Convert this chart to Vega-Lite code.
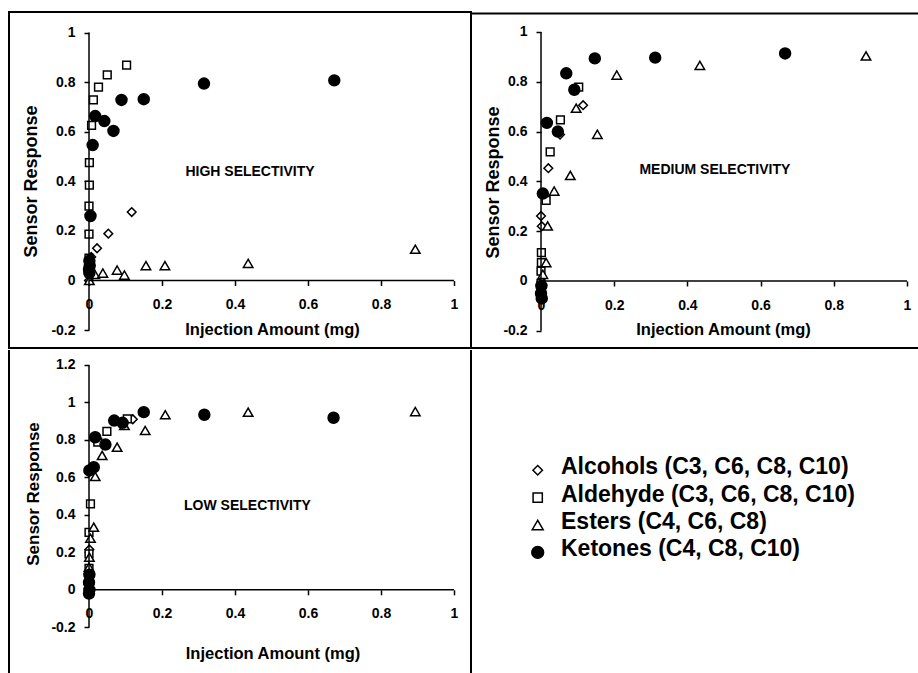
{
  "$schema": "https://vega.github.io/schema/vega-lite/v6.json",
  "background": "white",
  "padding": {"left": 8, "top": 11, "right": 0, "bottom": 0},
  "spacing": 0,
  "config": {
    "view": {"stroke": null},
    "legend": {"disable": true},
    "font": "Liberation Sans",
    "axis": {
      "grid": false, "domain": false, "tickColor": "black", "tickWidth": 1.5, "tickSize": 5,
      "labelFont": "Liberation Sans", "labelFontSize": 14, "labelFontWeight": "bold", "labelColor": "black",
      "labelFlush": false, "labelOverlap": false, "labelBound": false,
      "titleFont": "Liberation Sans", "titleFontWeight": "bold", "titleColor": "black",
      "titleAlign": "center", "titleBaseline": "middle"
    },
    "point": {"opacity": 1, "filled": true, "stroke": "black", "strokeWidth": 1.5}
  },
  "datasets": {
    "pts": [
      {"panel": "High", "type": "Alcohols", "amount": 0.0, "response": 0.0},
      {"panel": "High", "type": "Alcohols", "amount": 0.001, "response": 0.05},
      {"panel": "High", "type": "Alcohols", "amount": 0.006, "response": 0.095},
      {"panel": "High", "type": "Alcohols", "amount": 0.022, "response": 0.13},
      {"panel": "High", "type": "Alcohols", "amount": 0.053, "response": 0.189},
      {"panel": "High", "type": "Alcohols", "amount": 0.117, "response": 0.276},
      {"panel": "High", "type": "Aldehyde", "amount": 0.0, "response": 0.09},
      {"panel": "High", "type": "Aldehyde", "amount": 0.0, "response": 0.187},
      {"panel": "High", "type": "Aldehyde", "amount": 0.0, "response": 0.30},
      {"panel": "High", "type": "Aldehyde", "amount": 0.001, "response": 0.385},
      {"panel": "High", "type": "Aldehyde", "amount": 0.001, "response": 0.475},
      {"panel": "High", "type": "Aldehyde", "amount": 0.007, "response": 0.626},
      {"panel": "High", "type": "Aldehyde", "amount": 0.012, "response": 0.728},
      {"panel": "High", "type": "Aldehyde", "amount": 0.026, "response": 0.78},
      {"panel": "High", "type": "Aldehyde", "amount": 0.05, "response": 0.829},
      {"panel": "High", "type": "Aldehyde", "amount": 0.103, "response": 0.868},
      {"panel": "High", "type": "Esters", "amount": 0.001, "response": 0.0},
      {"panel": "High", "type": "Esters", "amount": 0.016, "response": 0.025},
      {"panel": "High", "type": "Esters", "amount": 0.038, "response": 0.03},
      {"panel": "High", "type": "Esters", "amount": 0.077, "response": 0.042},
      {"panel": "High", "type": "Esters", "amount": 0.097, "response": 0.022},
      {"panel": "High", "type": "Esters", "amount": 0.156, "response": 0.06},
      {"panel": "High", "type": "Esters", "amount": 0.208, "response": 0.06},
      {"panel": "High", "type": "Esters", "amount": 0.436, "response": 0.069},
      {"panel": "High", "type": "Esters", "amount": 0.894, "response": 0.126},
      {"panel": "High", "type": "Ketones", "amount": 0.001, "response": 0.03},
      {"panel": "High", "type": "Ketones", "amount": 0.0, "response": 0.045},
      {"panel": "High", "type": "Ketones", "amount": 0.002, "response": 0.06},
      {"panel": "High", "type": "Ketones", "amount": 0.001, "response": 0.08},
      {"panel": "High", "type": "Ketones", "amount": 0.004, "response": 0.26},
      {"panel": "High", "type": "Ketones", "amount": 0.01, "response": 0.546},
      {"panel": "High", "type": "Ketones", "amount": 0.017, "response": 0.663},
      {"panel": "High", "type": "Ketones", "amount": 0.042, "response": 0.643},
      {"panel": "High", "type": "Ketones", "amount": 0.067, "response": 0.603},
      {"panel": "High", "type": "Ketones", "amount": 0.089, "response": 0.728},
      {"panel": "High", "type": "Ketones", "amount": 0.15, "response": 0.731},
      {"panel": "High", "type": "Ketones", "amount": 0.315, "response": 0.794},
      {"panel": "High", "type": "Ketones", "amount": 0.672, "response": 0.807},

      {"panel": "Medium", "type": "Alcohols", "amount": 0.0, "response": -0.03},
      {"panel": "Medium", "type": "Alcohols", "amount": 0.002, "response": 0.22},
      {"panel": "Medium", "type": "Alcohols", "amount": 0.0, "response": 0.261},
      {"panel": "Medium", "type": "Alcohols", "amount": 0.02, "response": 0.453},
      {"panel": "Medium", "type": "Alcohols", "amount": 0.052, "response": 0.588},
      {"panel": "Medium", "type": "Alcohols", "amount": 0.115, "response": 0.706},
      {"panel": "Medium", "type": "Aldehyde", "amount": 0.0, "response": -0.01},
      {"panel": "Medium", "type": "Aldehyde", "amount": 0.0, "response": 0.04},
      {"panel": "Medium", "type": "Aldehyde", "amount": 0.001, "response": 0.074},
      {"panel": "Medium", "type": "Aldehyde", "amount": 0.001, "response": 0.114},
      {"panel": "Medium", "type": "Aldehyde", "amount": 0.014, "response": 0.324},
      {"panel": "Medium", "type": "Aldehyde", "amount": 0.025, "response": 0.519},
      {"panel": "Medium", "type": "Aldehyde", "amount": 0.053, "response": 0.647},
      {"panel": "Medium", "type": "Aldehyde", "amount": 0.103, "response": 0.779},
      {"panel": "Medium", "type": "Esters", "amount": 0.002, "response": 0.0},
      {"panel": "Medium", "type": "Esters", "amount": 0.005, "response": 0.027},
      {"panel": "Medium", "type": "Esters", "amount": 0.014, "response": 0.074},
      {"panel": "Medium", "type": "Esters", "amount": 0.018, "response": 0.221},
      {"panel": "Medium", "type": "Esters", "amount": 0.036, "response": 0.361},
      {"panel": "Medium", "type": "Esters", "amount": 0.08, "response": 0.424},
      {"panel": "Medium", "type": "Esters", "amount": 0.096, "response": 0.694},
      {"panel": "Medium", "type": "Esters", "amount": 0.154, "response": 0.589},
      {"panel": "Medium", "type": "Esters", "amount": 0.207, "response": 0.827},
      {"panel": "Medium", "type": "Esters", "amount": 0.434, "response": 0.866},
      {"panel": "Medium", "type": "Esters", "amount": 0.888, "response": 0.904},
      {"panel": "Medium", "type": "Ketones", "amount": 0.002, "response": -0.07},
      {"panel": "Medium", "type": "Ketones", "amount": 0.0, "response": -0.05},
      {"panel": "Medium", "type": "Ketones", "amount": 0.001, "response": -0.02},
      {"panel": "Medium", "type": "Ketones", "amount": 0.005, "response": 0.351},
      {"panel": "Medium", "type": "Ketones", "amount": 0.016, "response": 0.635},
      {"panel": "Medium", "type": "Ketones", "amount": 0.046, "response": 0.6},
      {"panel": "Medium", "type": "Ketones", "amount": 0.069, "response": 0.834},
      {"panel": "Medium", "type": "Ketones", "amount": 0.091, "response": 0.768},
      {"panel": "Medium", "type": "Ketones", "amount": 0.147, "response": 0.894},
      {"panel": "Medium", "type": "Ketones", "amount": 0.312, "response": 0.897},
      {"panel": "Medium", "type": "Ketones", "amount": 0.667, "response": 0.914},

      {"panel": "Low", "type": "Alcohols", "amount": 0.0, "response": 0.1},
      {"panel": "Low", "type": "Alcohols", "amount": 0.001, "response": 0.215},
      {"panel": "Low", "type": "Alcohols", "amount": 0.0, "response": 0.627},
      {"panel": "Low", "type": "Alcohols", "amount": 0.12, "response": 0.91},
      {"panel": "Low", "type": "Aldehyde", "amount": 0.0, "response": 0.03},
      {"panel": "Low", "type": "Aldehyde", "amount": 0.0, "response": 0.115},
      {"panel": "Low", "type": "Aldehyde", "amount": 0.0, "response": 0.192},
      {"panel": "Low", "type": "Aldehyde", "amount": 0.0, "response": 0.307},
      {"panel": "Low", "type": "Aldehyde", "amount": 0.004, "response": 0.459},
      {"panel": "Low", "type": "Aldehyde", "amount": 0.024, "response": 0.788},
      {"panel": "Low", "type": "Aldehyde", "amount": 0.049, "response": 0.845},
      {"panel": "Low", "type": "Aldehyde", "amount": 0.105, "response": 0.912},
      {"panel": "Low", "type": "Esters", "amount": 0.0, "response": 0.05},
      {"panel": "Low", "type": "Esters", "amount": 0.0, "response": 0.121},
      {"panel": "Low", "type": "Esters", "amount": 0.001, "response": 0.174},
      {"panel": "Low", "type": "Esters", "amount": 0.004, "response": 0.275},
      {"panel": "Low", "type": "Esters", "amount": 0.013, "response": 0.334},
      {"panel": "Low", "type": "Esters", "amount": 0.017, "response": 0.605},
      {"panel": "Low", "type": "Esters", "amount": 0.036, "response": 0.717},
      {"panel": "Low", "type": "Esters", "amount": 0.077, "response": 0.761},
      {"panel": "Low", "type": "Esters", "amount": 0.097, "response": 0.877},
      {"panel": "Low", "type": "Esters", "amount": 0.154, "response": 0.85},
      {"panel": "Low", "type": "Esters", "amount": 0.209, "response": 0.934},
      {"panel": "Low", "type": "Esters", "amount": 0.436, "response": 0.948},
      {"panel": "Low", "type": "Esters", "amount": 0.894, "response": 0.951},
      {"panel": "Low", "type": "Ketones", "amount": 0.0, "response": -0.02},
      {"panel": "Low", "type": "Ketones", "amount": 0.001, "response": 0.0},
      {"panel": "Low", "type": "Ketones", "amount": 0.0, "response": 0.04},
      {"panel": "Low", "type": "Ketones", "amount": 0.001, "response": 0.08},
      {"panel": "Low", "type": "Ketones", "amount": 0.001, "response": 0.637},
      {"panel": "Low", "type": "Ketones", "amount": 0.013, "response": 0.654},
      {"panel": "Low", "type": "Ketones", "amount": 0.017, "response": 0.814},
      {"panel": "Low", "type": "Ketones", "amount": 0.045, "response": 0.775},
      {"panel": "Low", "type": "Ketones", "amount": 0.069, "response": 0.903},
      {"panel": "Low", "type": "Ketones", "amount": 0.092, "response": 0.891},
      {"panel": "Low", "type": "Ketones", "amount": 0.15, "response": 0.948},
      {"panel": "Low", "type": "Ketones", "amount": 0.316, "response": 0.934},
      {"panel": "Low", "type": "Ketones", "amount": 0.67, "response": 0.918}
    ],
    "legendRows": [
      {"type": "Alcohols", "label": "Alcohols (C3, C6, C8, C10)", "row": 0},
      {"type": "Aldehyde", "label": "Aldehyde (C3, C6, C8, C10)", "row": 1},
      {"type": "Esters", "label": "Esters (C4, C6, C8)", "row": 2},
      {"type": "Ketones", "label": "Ketones (C4, C8, C10)", "row": 3}
    ]
  },
  "vconcat": [
    {
      "hconcat": [
        {
          "width": 462, "height": 336,
          "view": {"stroke": "black", "strokeWidth": 2},
          "layer": [
            {
              "data": {"name": "pts"},
              "transform": [{"filter": "datum.panel === 'High'"}],
              "mark": {"type": "point"},
              "encoding": {
                "x": {"field": "amount", "type": "quantitative",
                  "scale": {"domain": [-0.2192, 1.0466], "nice": false, "zero": false},
                  "axis": {"title": "Injection Amount (mg)", "values": [0, 0.2, 0.4, 0.6, 0.8, 1], "offset": -67.5, "labelPadding": 12, "labelExpr": "'' + datum.value", "titleX": 263, "titleY": 48.5, "titleFontSize": 16.5}},
                "y": {"field": "response", "type": "quantitative",
                  "scale": {"domain": [-0.2722, 1.0827], "nice": false, "zero": false},
                  "axis": {"title": "Sensor Response", "values": [-0.2, 0, 0.2, 0.4, 0.6, 0.8, 1], "offset": -80, "labelPadding": 9, "labelExpr": "'' + datum.value", "titleAngle": -90, "titleX": -58, "titleY": 169, "titleFontSize": 18}},
                "shape": {"field": "type", "type": "nominal", "scale": {"domain": ["Alcohols", "Aldehyde", "Esters", "Ketones"], "range": ["diamond", "square", "triangle-up", "circle"]}},
                "fill": {"field": "type", "type": "nominal", "scale": {"domain": ["Alcohols", "Aldehyde", "Esters", "Ketones"], "range": ["white", "white", "white", "black"]}},
                "size": {"condition": [{"test": "datum.type === 'Ketones'", "value": 120}, {"test": "datum.type === 'Esters'", "value": 90}, {"test": "datum.type === 'Alcohols'", "value": 75}], "value": 60}
              }
            },
            {
              "data": {"values": [{}]},
              "mark": {"type": "rule", "color": "black", "strokeWidth": 1.5},
              "encoding": {"x": {"datum": 0, "type": "quantitative"}, "y": {"datum": -0.2, "type": "quantitative"}, "y2": {"datum": 1}}
            },
            {
              "data": {"values": [{}]},
              "mark": {"type": "rule", "color": "black", "strokeWidth": 1.5},
              "encoding": {"y": {"datum": 0, "type": "quantitative"}, "x": {"datum": 0, "type": "quantitative"}, "x2": {"datum": 1}}
            },
            {
              "data": {"values": [{}]},
              "mark": {"type": "text", "font": "Liberation Sans", "fontWeight": "bold", "fontSize": 14, "align": "center", "baseline": "middle", "color": "black"},
              "encoding": {"x": {"datum": 0.441, "type": "quantitative"}, "y": {"datum": 0.439, "type": "quantitative"}, "text": {"value": "HIGH SELECTIVITY"}}
            }
          ]
        },
        {
          "width": 448, "height": 336,
          "layer": [
            {
              "data": {"name": "pts"},
              "transform": [{"filter": "datum.panel === 'Medium'"}],
              "mark": {"type": "point"},
              "encoding": {
                "x": {"field": "amount", "type": "quantitative",
                  "scale": {"domain": [-0.1913, 1.0328], "nice": false, "zero": false},
                  "axis": {"title": "Injection Amount (mg)", "values": [0, 0.2, 0.4, 0.6, 0.8, 1], "offset": -67, "labelPadding": 12, "labelExpr": "'' + datum.value", "titleX": 252, "titleY": 48, "titleFontSize": 16.5}},
                "y": {"field": "response", "type": "quantitative",
                  "scale": {"domain": [-0.2691, 1.0803], "nice": false, "zero": false},
                  "axis": {"title": "Sensor Response", "values": [-0.2, 0, 0.2, 0.4, 0.6, 0.8, 1], "offset": -70, "labelPadding": 9, "labelExpr": "'' + datum.value", "titleAngle": -90, "titleX": -47.5, "titleY": 170, "titleFontSize": 18}},
                "shape": {"field": "type", "type": "nominal", "scale": {"domain": ["Alcohols", "Aldehyde", "Esters", "Ketones"], "range": ["diamond", "square", "triangle-up", "circle"]}},
                "fill": {"field": "type", "type": "nominal", "scale": {"domain": ["Alcohols", "Aldehyde", "Esters", "Ketones"], "range": ["white", "white", "white", "black"]}},
                "size": {"condition": [{"test": "datum.type === 'Ketones'", "value": 120}, {"test": "datum.type === 'Esters'", "value": 90}, {"test": "datum.type === 'Alcohols'", "value": 75}], "value": 60}
              }
            },
            {
              "data": {"values": [{}]},
              "mark": {"type": "rule", "color": "black", "strokeWidth": 1.5},
              "encoding": {"x": {"datum": 0, "type": "quantitative"}, "y": {"datum": -0.2, "type": "quantitative"}, "y2": {"datum": 1}}
            },
            {
              "data": {"values": [{}]},
              "mark": {"type": "rule", "color": "black", "strokeWidth": 1.5},
              "encoding": {"y": {"datum": 0, "type": "quantitative"}, "x": {"datum": 0, "type": "quantitative"}, "x2": {"datum": 1}}
            },
            {
              "data": {"values": [{}]},
              "mark": {"type": "rule", "color": "black", "strokeWidth": 2},
              "encoding": {"y": {"datum": 1.0743, "type": "quantitative"}}
            },
            {
              "data": {"values": [{}]},
              "mark": {"type": "rule", "color": "black", "strokeWidth": 2},
              "encoding": {"y": {"datum": -0.2691, "type": "quantitative"}}
            },
            {
              "data": {"values": [{}]},
              "mark": {"type": "text", "font": "Liberation Sans", "fontWeight": "bold", "fontSize": 14, "align": "center", "baseline": "middle", "color": "black"},
              "encoding": {"x": {"datum": 0.475, "type": "quantitative"}, "y": {"datum": 0.445, "type": "quantitative"}, "text": {"value": "MEDIUM SELECTIVITY"}}
            }
          ]
        }
      ],
      "spacing": 0,
      "bounds": "flush"
    },
    {
      "hconcat": [
        {
          "width": 462, "height": 324,
          "layer": [
            {
              "data": {"name": "pts"},
              "transform": [{"filter": "datum.panel === 'Low'"}],
              "mark": {"type": "point"},
              "encoding": {
                "x": {"field": "amount", "type": "quantitative",
                  "scale": {"domain": [-0.2192, 1.0466], "nice": false, "zero": false},
                  "axis": {"title": "Injection Amount (mg)", "values": [0, 0.2, 0.4, 0.6, 0.8, 1], "offset": -84.2, "labelPadding": 12, "labelExpr": "'' + datum.value", "titleX": 263.5, "titleY": 64, "titleFontSize": 16.5}},
                "y": {"field": "response", "type": "quantitative",
                  "scale": {"domain": [-0.4493, 1.2796], "nice": false, "zero": false},
                  "axis": {"title": "Sensor Response", "values": [-0.2, 0, 0.2, 0.4, 0.6, 0.8, 1, 1.2], "offset": -80, "labelPadding": 9, "labelExpr": "'' + datum.value", "titleAngle": -90, "titleX": -55.5, "titleY": 143.5, "titleFontSize": 17}},
                "shape": {"field": "type", "type": "nominal", "scale": {"domain": ["Alcohols", "Aldehyde", "Esters", "Ketones"], "range": ["diamond", "square", "triangle-up", "circle"]}},
                "fill": {"field": "type", "type": "nominal", "scale": {"domain": ["Alcohols", "Aldehyde", "Esters", "Ketones"], "range": ["white", "white", "white", "black"]}},
                "size": {"condition": [{"test": "datum.type === 'Ketones'", "value": 120}, {"test": "datum.type === 'Esters'", "value": 90}, {"test": "datum.type === 'Alcohols'", "value": 75}], "value": 60}
              }
            },
            {
              "data": {"values": [{}]},
              "mark": {"type": "rule", "color": "black", "strokeWidth": 1.5},
              "encoding": {"x": {"datum": 0, "type": "quantitative"}, "y": {"datum": -0.2, "type": "quantitative"}, "y2": {"datum": 1.2}}
            },
            {
              "data": {"values": [{}]},
              "mark": {"type": "rule", "color": "black", "strokeWidth": 1.5},
              "encoding": {"y": {"datum": 0, "type": "quantitative"}, "x": {"datum": 0, "type": "quantitative"}, "x2": {"datum": 1}}
            },
            {
              "data": {"values": [{}]},
              "mark": {"type": "rule", "color": "black", "strokeWidth": 2},
              "encoding": {"x": {"datum": -0.2192, "type": "quantitative"}}
            },
            {
              "data": {"values": [{}]},
              "mark": {"type": "rule", "color": "black", "strokeWidth": 2},
              "encoding": {"x": {"datum": 1.0466, "type": "quantitative"}}
            },
            {
              "data": {"values": [{}]},
              "mark": {"type": "text", "font": "Liberation Sans", "fontWeight": "bold", "fontSize": 14, "align": "center", "baseline": "middle", "color": "black"},
              "encoding": {"x": {"datum": 0.434, "type": "quantitative"}, "y": {"datum": 0.445, "type": "quantitative"}, "text": {"value": "LOW SELECTIVITY"}}
            }
          ]
        },
        {
          "width": 448, "height": 324,
          "layer": [
            {
              "data": {"values": [{}]},
              "mark": {"type": "rule", "color": "black", "strokeWidth": 2},
              "encoding": {"x": {"datum": -2.863, "type": "quantitative", "scale": {"domain": [-2.863, 16.365], "nice": false, "zero": false}, "axis": null}}
            },
            {
              "data": {"name": "legendRows"},
              "mark": {"type": "point", "yOffset": 3},
              "encoding": {
                "x": {"datum": 0, "type": "quantitative"},
                "y": {"field": "row", "type": "quantitative", "axis": null,
                  "scale": {"domain": [-4.277, 7.547], "reverse": true, "nice": false, "zero": false}},
                "shape": {"field": "type", "type": "nominal", "scale": {"domain": ["Alcohols", "Aldehyde", "Esters", "Ketones"], "range": ["diamond", "square", "triangle-up", "circle"]}},
                "fill": {"field": "type", "type": "nominal", "scale": {"domain": ["Alcohols", "Aldehyde", "Esters", "Ketones"], "range": ["white", "white", "white", "black"]}},
                "size": {"condition": [{"test": "datum.type === 'Ketones'", "value": 140}, {"test": "datum.type === 'Esters'", "value": 120}, {"test": "datum.type === 'Alcohols'", "value": 90}], "value": 85}
              }
            },
            {
              "data": {"name": "legendRows"},
              "mark": {"type": "text", "font": "Liberation Sans", "fontWeight": "bold", "fontSize": 23, "align": "left", "baseline": "middle", "color": "black"},
              "encoding": {
                "x": {"datum": 1, "type": "quantitative"},
                "y": {"field": "row", "type": "quantitative"},
                "text": {"field": "label", "type": "nominal"}
              }
            }
          ]
        }
      ],
      "spacing": 0,
      "bounds": "flush"
    }
  ]
}
